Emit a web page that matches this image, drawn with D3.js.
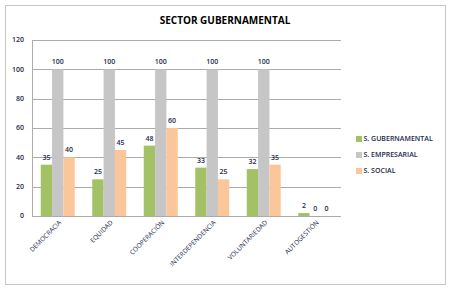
<!DOCTYPE html>
<html>
<head>
<meta charset="utf-8">
<script src="https://cdn.jsdelivr.net/npm/d3@7"></script>
<style>
  body { margin: 0; background: #fff; }
  text { font-family: "Open Sans", sans-serif; fill: #1c2a48; }
</style>
</head>
<body>
<svg width="452" height="291"></svg>
<script>
const categories = ["DEMOCRACIA", "EQUIDAD", "COOPERACIÓN", "INTERDEPENDENCIA", "VOLUNTARIEDAD", "AUTOGESTIÓN"];
const seriesNames = ["S. GUBERNAMENTAL", "S. EMPRESARIAL", "S. SOCIAL"];
const gubernamental = [35, 25, 48, 33, 32, 2];
const empresarial = [100, 100, 100, 100, 100, 0];
const social = [40, 45, 60, 25, 35, 0];
const yTicks = [0, 20, 40, 60, 80, 100, 120];
const colors = ["#a3c265", "#c6c6c6", "#fbc79a"];

const series = [gubernamental, empresarial, social];

const svg = d3.select("svg");
const margin = { top: 40, right: 111, bottom: 75, left: 32 };
const width = +svg.attr("width") - margin.left - margin.right;
const height = +svg.attr("height") - margin.top - margin.bottom;

// outer frame
svg.append("rect")
  .attr("x", 5.5).attr("y", 5.5)
  .attr("width", 440).attr("height", 279)
  .attr("fill", "#fff")
  .attr("stroke", "#c8c8c8");

svg.append("text")
  .attr("x", 225)
  .attr("y", 24)
  .attr("text-anchor", "middle")
  .style("font-size", "10px")
  .style("font-weight", "bold")
  .style("fill", "#000")
  .text("SECTOR GUBERNAMENTAL");

const g = svg.append("g").attr("transform", `translate(${margin.left},${margin.top})`);

const x0 = d3.scaleBand().domain(categories).range([0, width]).paddingInner(0.34).paddingOuter(0.17);
const x1 = d3.scaleBand().domain(d3.range(3)).range([0, x0.bandwidth()]);
const y = d3.scaleLinear().domain([0, 120]).range([height, 0]);

// gridlines
g.selectAll(".grid")
  .data(yTicks)
  .join("line")
  .attr("x1", 0).attr("x2", width)
  .attr("y1", d => Math.round(y(d)) + 0.5)
  .attr("y2", d => Math.round(y(d)) + 0.5)
  .attr("stroke", "#ababab")
  .attr("stroke-width", 1);

g.append("line")
  .attr("x1", 0.5).attr("x2", 0.5)
  .attr("y1", 0).attr("y2", height)
  .attr("stroke", "#ababab");

g.selectAll(".ytick")
  .data(yTicks)
  .join("text")
  .attr("x", -8)
  .attr("y", d => y(d))
  .attr("dy", "0.35em")
  .attr("text-anchor", "end")
  .style("font-size", "7px")
  .style("font-weight", "600")
  .text(d => d);

const groups = g.selectAll(".cat")
  .data(categories)
  .join("g")
  .attr("transform", d => `translate(${x0(d)},0)`);

groups.selectAll("rect")
  .data((d, i) => series.map((s, j) => ({ j, v: s[i] })))
  .join("rect")
  .attr("x", d => x1(d.j))
  .attr("y", d => y(d.v))
  .attr("width", x1.bandwidth())
  .attr("height", d => height - y(d.v))
  .attr("fill", d => colors[d.j]);

groups.selectAll(".lbl")
  .data((d, i) => series.map((s, j) => ({ j, v: s[i] })))
  .join("text")
  .attr("x", d => x1(d.j) + x1.bandwidth() / 2)
  .attr("y", d => y(d.v) - 5)
  .attr("text-anchor", "middle")
  .style("font-size", "7px")
  .style("font-weight", "600")
  .text(d => d.v);

// rotated category labels
g.selectAll(".xlab")
  .data(categories)
  .join("text")
  .attr("transform", d => `translate(${x0(d) + x0.bandwidth() / 2 + 4},${height + 7}) rotate(-45)`)
  .attr("text-anchor", "end")
  .style("font-size", "6.5px")
  .text(d => d);

// legend
const legend = svg.append("g").attr("transform", "translate(356,136)");
seriesNames.forEach((name, i) => {
  const row = legend.append("g").attr("transform", `translate(0,${i * 16})`);
  row.append("rect").attr("width", 6).attr("height", 6).attr("fill", colors[i]);
  row.append("text")
    .attr("x", 7.5).attr("y", 3)
    .attr("dy", "0.35em")
    .style("font-size", "7px")
    .style("font-weight", "600")
    .text(name);
});
</script>
</body>
</html>
